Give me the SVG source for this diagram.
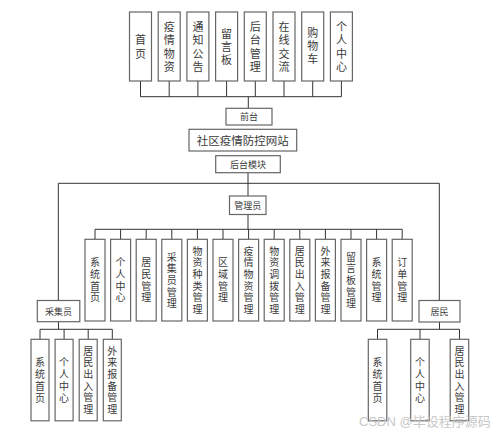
<svg xmlns="http://www.w3.org/2000/svg" width="500" height="435" viewBox="0 0 500 435">
<style>
.b{fill:#fff;stroke:#666;stroke-width:1.2}
.l{fill:none;stroke:#333;stroke-width:1}
.t{font-family:"Noto Sans CJK SC","Liberation Sans",sans-serif;fill:#3a3a3a;text-anchor:middle;dominant-baseline:central}
.v{font-family:"Noto Sans CJK SC","Liberation Sans",sans-serif;fill:#3a3a3a;text-anchor:middle;writing-mode:vertical-rl}
.v11{font-size:11px;letter-spacing:2.3px}
.v10{font-size:10px;letter-spacing:1.7px}
.v10b{font-size:10px;letter-spacing:2px}
.t9{font-size:9px}
.wm{font-family:"Liberation Sans","Noto Sans CJK SC",sans-serif;font-size:13px;fill:#c8c8c8}
</style>
<rect width="500" height="435" fill="#fff"/>
<g id="connectors">
<path class="l" d="M140.5,81V96.7H341.4V81M169.2,81V96.7M197.9,81V96.7M226.6,81V96.7M255.3,81V96.7M284,81V96.7M312.7,81V96.7M248.3,96.7V108.3"/>
<path class="l" d="M248,172.7V196M58.3,300V183.3H439.3V300"/>
<path class="l" d="M248,214.5V229.3M95,239.3V229.3H402.2V239.3M120.6,229.3V239.3M146.2,229.3V239.3M171.8,229.3V239.3M197.4,229.3V239.3M223,229.3V239.3M248.6,229.3V239.3M274.2,229.3V239.3M299.8,229.3V239.3M325.4,229.3V239.3M351,229.3V239.3M376.6,229.3V239.3"/>
<path class="l" d="M58.5,321.7V329.3M40,339.3V329.3H112.3V339.3M64.1,329.3V339.3M88.2,329.3V339.3"/>
<path class="l" d="M439.5,322V329.3M377.5,339.3V329.3H459.5V339.3M420,329.3V339.3"/>
</g>
<g id="top-row">
<g id="n-shouye"><rect class="b" x="129.5" y="12" width="22" height="69"/><text class="v v11" x="140.5" y="48">首页</text></g>
<g id="n-yqwz"><rect class="b" x="158.2" y="12" width="22" height="69"/><text class="v v11" x="169.2" y="48">疫情物资</text></g>
<g id="n-tzgg"><rect class="b" x="186.9" y="12" width="22" height="69"/><text class="v v11" x="197.9" y="48">通知公告</text></g>
<g id="n-lyb"><rect class="b" x="215.6" y="12" width="22" height="69"/><text class="v v11" x="226.6" y="48">留言板</text></g>
<g id="n-htgl"><rect class="b" x="244.3" y="12" width="22" height="69"/><text class="v v11" x="255.3" y="48">后台管理</text></g>
<g id="n-zxjl"><rect class="b" x="273" y="12" width="22" height="69"/><text class="v v11" x="284" y="48">在线交流</text></g>
<g id="n-gwc"><rect class="b" x="301.7" y="12" width="22" height="69"/><text class="v v11" x="312.7" y="47">购物车</text></g>
<g id="n-grzx"><rect class="b" x="330.4" y="12" width="22" height="69"/><text class="v v11" x="341.4" y="48">个人中心</text></g>
</g>
<g id="n-qiantai"><rect class="b" x="226" y="108.3" width="46" height="16.7"/><text class="t t9" x="249" y="116.8">前台</text></g>
<g id="n-site"><rect class="b" x="189" y="129.3" width="107.7" height="21.7"/><text class="t" style="font-size:11.5px" x="242.8" y="140.2">社区疫情防控网站</text></g>
<g id="n-houtai"><rect class="b" x="215.7" y="155.7" width="64.6" height="17"/><text class="t t9" x="248" y="164.2">后台模块</text></g>
<g id="n-admin"><rect class="b" x="229.5" y="196" width="36.5" height="18.5"/><text class="t t9" x="247.8" y="205.3">管理员</text></g>
<g id="admin-children">
<g id="a1"><rect class="b" x="85" y="239.3" width="20" height="81.7"/><text class="v v10" x="95" y="281">系统首页</text></g>
<g id="a2"><rect class="b" x="110.6" y="239.3" width="20" height="81.7"/><text class="v v10" x="120.6" y="281">个人中心</text></g>
<g id="a3"><rect class="b" x="136.2" y="239.3" width="20" height="81.7"/><text class="v v10" x="146.2" y="281">居民管理</text></g>
<g id="a4"><rect class="b" x="161.8" y="239.3" width="20" height="81.7"/><text class="v v10" x="171.8" y="281">采集员管理</text></g>
<g id="a5"><rect class="b" x="187.4" y="239.3" width="20" height="81.7"/><text class="v v10" x="197.4" y="281">物资种类管理</text></g>
<g id="a6"><rect class="b" x="213" y="239.3" width="20" height="81.7"/><text class="v v10" x="223" y="281">区域管理</text></g>
<g id="a7"><rect class="b" x="238.6" y="239.3" width="20" height="81.7"/><text class="v v10" x="248.6" y="281">疫情物资管理</text></g>
<g id="a8"><rect class="b" x="264.2" y="239.3" width="20" height="81.7"/><text class="v v10" x="274.2" y="281">物资调拨管理</text></g>
<g id="a9"><rect class="b" x="289.8" y="239.3" width="20" height="81.7"/><text class="v v10" x="299.8" y="281">居民出入管理</text></g>
<g id="a10"><rect class="b" x="315.4" y="239.3" width="20" height="81.7"/><text class="v v10" x="325.4" y="281">外来报备管理</text></g>
<g id="a11"><rect class="b" x="341" y="239.3" width="20" height="81.7"/><text class="v v10" x="351" y="281">留言板管理</text></g>
<g id="a12"><rect class="b" x="366.6" y="239.3" width="20" height="81.7"/><text class="v v10" x="376.6" y="281">系统管理</text></g>
<g id="a13"><rect class="b" x="392.2" y="239.3" width="20" height="81.7"/><text class="v v10" x="402.2" y="281">订单管理</text></g>
</g>
<g id="n-caijiyuan"><rect class="b" x="37.3" y="300.5" width="42.5" height="21.2"/><text class="t t9" x="58.5" y="311">采集员</text></g>
<g id="n-jumin"><rect class="b" x="419" y="300.5" width="41" height="21.5"/><text class="t t9" x="439.5" y="311.2">居民</text></g>
<g id="c1"><rect class="b" x="31" y="339.3" width="18" height="81.5"/><text class="v v10b" x="40" y="381">系统首页</text></g>
<g id="c2"><rect class="b" x="55.1" y="339.3" width="18" height="81.5"/><text class="v v10b" x="64.1" y="381">个人中心</text></g>
<g id="c3"><rect class="b" x="79.2" y="339.3" width="18" height="81.5"/><text class="v v10" x="88.2" y="381">居民出入管理</text></g>
<g id="c4"><rect class="b" x="103.3" y="339.3" width="18" height="81.5"/><text class="v v10" x="112.3" y="381">外来报备管理</text></g>
<g id="r1"><rect class="b" x="368.3" y="339.3" width="18.5" height="81.5"/><text class="v v10b" x="377.5" y="381">系统首页</text></g>
<g id="r2"><rect class="b" x="410.7" y="339.3" width="18.5" height="81.5"/><text class="v v10b" x="420" y="381">个人中心</text></g>
<g id="r3"><rect class="b" x="450.2" y="339.3" width="18.5" height="81.5"/><text class="v v10" x="459.5" y="381">居民出入管理</text></g>
<text class="wm" x="359" y="426">CSDN @毕设程序源码</text>
</svg>
